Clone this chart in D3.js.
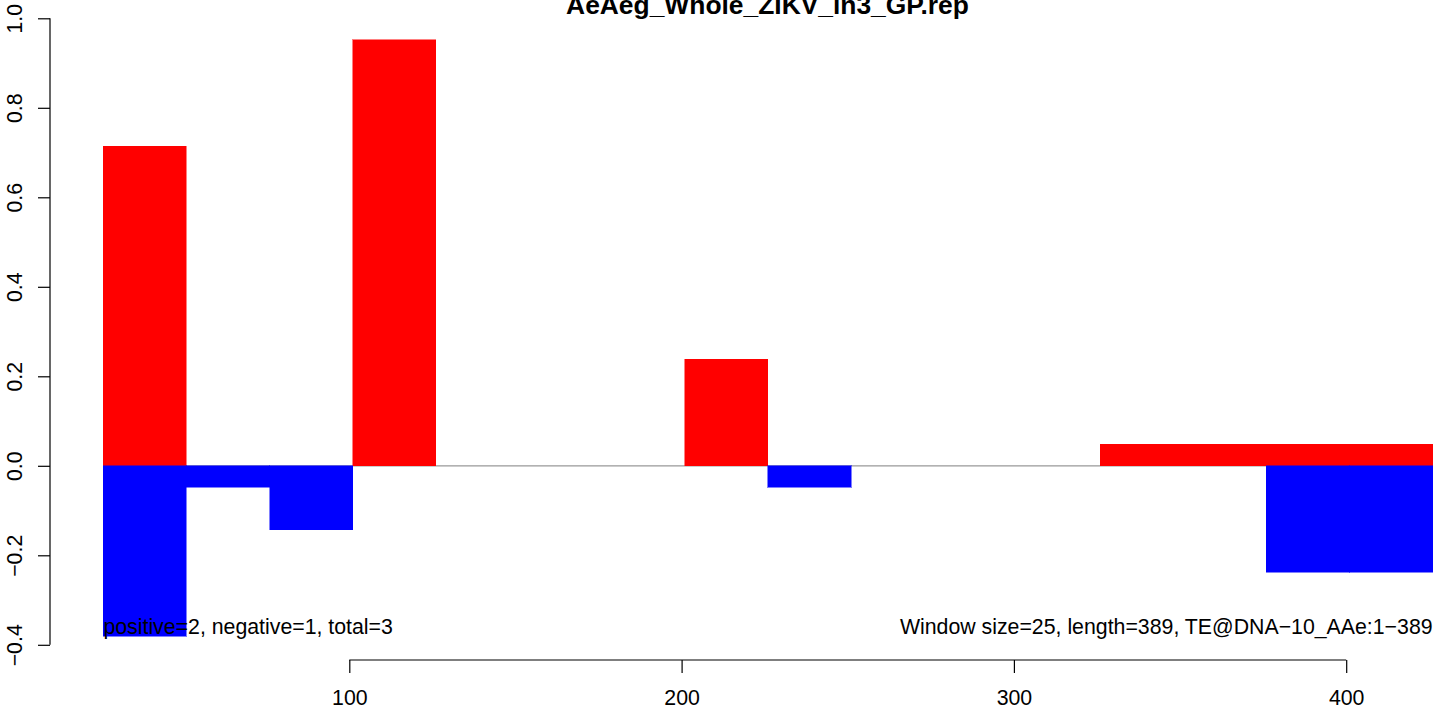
<!DOCTYPE html>
<html>
<head>
<meta charset="utf-8">
<script src="https://cdn.jsdelivr.net/npm/d3@7"></script>
<style>
  html, body { margin: 0; padding: 0; background: #fff; }
  svg { display: block; }
  text { font-family: "Liberation Sans", Arial, Helvetica, sans-serif; }
</style>
</head>
<body>
<svg id="chart" width="1436" height="711"></svg>
<script>
// ---- data ----
const title = "AeAeg_Whole_ZIKV_in3_GP.rep";
const windowStart = [26, 51, 76, 101, 126, 151, 176, 201, 226, 251, 276, 301, 326, 351, 376, 401];
const windowSize = 25;
const positiveValues = [0.714, 0, 0, 0.952, 0, 0, 0, 0.238, 0, 0, 0, 0, 0.048, 0.048, 0.048, 0.048];
const negativeValues = [-0.381, -0.048, -0.143, 0, 0, 0, 0, 0, -0.048, 0, 0, 0, 0, 0, -0.238, -0.238];
const xTicks = [100, 200, 300, 400];
const yTicks = [-0.4, -0.2, 0.0, 0.2, 0.4, 0.6, 0.8, 1.0];
const leftNote = "positive=2, negative=1, total=3";
const rightNote = "Window size=25, length=389, TE@DNA\u221210_AAe:1\u2212389";

// ---- scales ----
const x = d3.scaleLinear().domain([100, 400]).range([349.3, 1346.2]);
const y = d3.scaleLinear().domain([-0.4, 1.0]).range([644.8, 18.3]);

const svg = d3.select("#chart");
const fs = 21.3;

// baseline
svg.append("line")
  .attr("x1", x(windowStart[0])).attr("x2", x(windowStart[windowStart.length - 1] + windowSize))
  .attr("y1", y(0)).attr("y2", y(0))
  .attr("stroke", "#999").attr("stroke-width", 1.2);

const bins = windowStart.map((s, i) => ({ s, pos: positiveValues[i], neg: negativeValues[i] }));

svg.append("g").attr("shape-rendering", "crispEdges").selectAll("rect")
  .data(bins.filter(d => d.pos > 0)).join("rect")
  .attr("x", d => x(d.s)).attr("width", d => x(d.s + windowSize) - x(d.s))
  .attr("y", d => y(d.pos)).attr("height", d => y(0) - y(d.pos))
  .attr("fill", "#ff0000").attr("stroke", "#ff0000").attr("stroke-width", 0.5);

svg.append("g").attr("shape-rendering", "crispEdges").selectAll("rect")
  .data(bins.filter(d => d.neg < 0)).join("rect")
  .attr("x", d => x(d.s)).attr("width", d => x(d.s + windowSize) - x(d.s))
  .attr("y", y(0)).attr("height", d => y(d.neg) - y(0))
  .attr("fill", "#0000ff").attr("stroke", "#0000ff").attr("stroke-width", 0.5);

// x axis
const xAxis = d3.axisBottom(x).tickValues(xTicks).tickFormat(d3.format("d")).tickSize(13).tickSizeOuter(0);
const gx = svg.append("g").attr("transform", "translate(0,660)").call(xAxis);
gx.select(".domain").attr("d", `M${x(100)},0H${x(400)}`).attr("stroke", "#000").attr("stroke-width", 1.2);
gx.selectAll(".tick line").attr("stroke", "#000").attr("stroke-width", 1.2);
gx.selectAll(".tick text").attr("y", 45).attr("dy", null)
  .style("font-size", fs + "px").attr("fill", "#000")
  .style("font-family", '"Liberation Sans", Arial, sans-serif');

// y axis
const yAxis = d3.axisLeft(y).tickValues(yTicks).tickFormat(d3.format(".1f")).tickSize(12).tickSizeOuter(0);
const gy = svg.append("g").attr("transform", "translate(50,0)").call(yAxis);
gy.select(".domain").attr("d", `M0,${y(-0.4)}V${y(1.0)}`).attr("stroke", "#000").attr("stroke-width", 1.2);
gy.selectAll(".tick line").attr("stroke", "#000").attr("stroke-width", 1.2);
gy.selectAll(".tick text")
  .attr("x", null).attr("dy", null)
  .attr("transform", "translate(-28,0) rotate(-90)")
  .attr("text-anchor", "middle")
  .text(d => d3.format(".1f")(d).replace("-", "\u2212"))
  .style("font-size", fs + "px").attr("fill", "#000")
  .style("font-family", '"Liberation Sans", Arial, sans-serif');

// notes
svg.append("text").attr("x", x(windowStart[0])).attr("y", 634.3)
  .attr("text-anchor", "start").style("font-size", fs + "px").text(leftNote);
svg.append("text").attr("x", x(windowStart[windowStart.length - 1] + windowSize)).attr("y", 634.3)
  .attr("text-anchor", "end").style("font-size", fs + "px").text(rightNote);

// title (clipped at top like the reference)
svg.append("text").attr("x", 767.5).attr("y", 14)
  .attr("text-anchor", "middle").style("font-size", "26.4px").style("font-weight", "bold").text(title);
</script>
</body>
</html>
